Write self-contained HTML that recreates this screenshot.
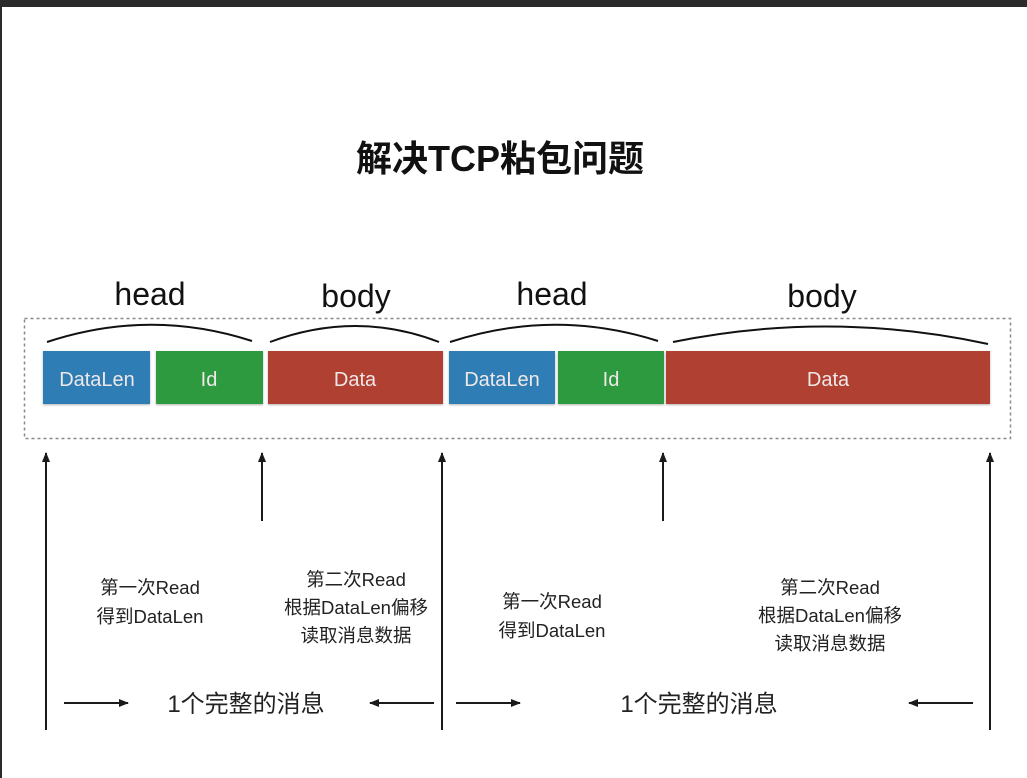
<!DOCTYPE html>
<html><head><meta charset="utf-8"><style>
html,body{margin:0;padding:0;background:#fff;width:1027px;height:778px;overflow:hidden}
svg{display:block}
text{font-family:"Liberation Sans","Noto Sans CJK SC",sans-serif}
</style></head><body>
<svg width="1027" height="778" viewBox="0 0 1027 778" xmlns="http://www.w3.org/2000/svg">
<defs>
<marker id="ah" viewBox="0 0 10 10" refX="9" refY="5" markerWidth="10" markerHeight="10" markerUnits="userSpaceOnUse" orient="auto">
<path d="M0,1 L10,5 L0,9 Z" fill="#1a1a1a"/></marker>
<filter id="sh" x="-5%" y="-10%" width="110%" height="130%"><feDropShadow dx="0" dy="1" stdDeviation="1" flood-opacity="0.3"/></filter>
</defs>
<rect x="0" y="0" width="1027" height="778" fill="#fff"/>
<rect x="0" y="0" width="1027" height="7" fill="#2b2b2b"/>
<rect x="0" y="0" width="2" height="778" fill="#2b2b2b"/>
<text x="500" y="171" font-size="36" font-weight="bold" text-anchor="middle" fill="#111">解决TCP粘包问题</text>
<g font-size="32" fill="#111" text-anchor="middle">
<text x="150" y="305">head</text><text x="356" y="307">body</text>
<text x="552" y="305">head</text><text x="822" y="307">body</text>
</g>
<rect x="24.5" y="318.5" width="986" height="120" fill="none" stroke="#888" stroke-width="1.5" stroke-dasharray="3,3"/>
<g fill="none" stroke="#111" stroke-width="2">
<path d="M47,342 Q150,308 252,341"/>
<path d="M270,342 Q356,310 439,342"/>
<path d="M450,342 Q554,308 658,341"/>
<path d="M673,342 Q830,310 988,344"/>
</g>
<g filter="url(#sh)">
<rect x="43" y="351" width="107" height="53" fill="#2e7db5"/>
<rect x="156" y="351" width="107" height="53" fill="#2f9a3f"/>
<rect x="268" y="351" width="175" height="53" fill="#b04131"/>
<rect x="449" y="351" width="106" height="53" fill="#2e7db5"/>
<rect x="558" y="351" width="106" height="53" fill="#2f9a3f"/>
<rect x="666" y="351" width="324" height="53" fill="#b04131"/>
</g>
<g font-size="20" fill="#f0e8e8" text-anchor="middle">
<text x="97" y="386">DataLen</text><text x="209" y="386">Id</text><text x="355" y="386">Data</text>
<text x="502" y="386">DataLen</text><text x="611" y="386">Id</text><text x="828" y="386">Data</text>
</g>
<g stroke="#1a1a1a" stroke-width="2" marker-end="url(#ah)">
<line x1="46" y1="730" x2="46" y2="453"/>
<line x1="262" y1="521" x2="262" y2="453"/>
<line x1="442" y1="730" x2="442" y2="453"/>
<line x1="663" y1="521" x2="663" y2="453"/>
<line x1="990" y1="730" x2="990" y2="453"/>
<line x1="64" y1="703" x2="128" y2="703"/>
<line x1="434" y1="703" x2="370" y2="703"/>
<line x1="456" y1="703" x2="520" y2="703"/>
<line x1="973" y1="703" x2="909" y2="703"/>
</g>
<g font-size="18.5" fill="#222" text-anchor="middle">
<text x="150" y="594">第一次Read</text><text x="150" y="623">得到DataLen</text>
<text x="356" y="586">第二次Read</text><text x="356" y="614">根据DataLen偏移</text><text x="356" y="642">读取消息数据</text>
<text x="552" y="608">第一次Read</text><text x="552" y="637">得到DataLen</text>
<text x="830" y="594">第二次Read</text><text x="830" y="622">根据DataLen偏移</text><text x="830" y="650">读取消息数据</text>
</g>
<g font-size="24" fill="#222" text-anchor="middle">
<text x="246" y="712">1个完整的消息</text>
<text x="699" y="712">1个完整的消息</text>
</g>
</svg>
</body></html>
